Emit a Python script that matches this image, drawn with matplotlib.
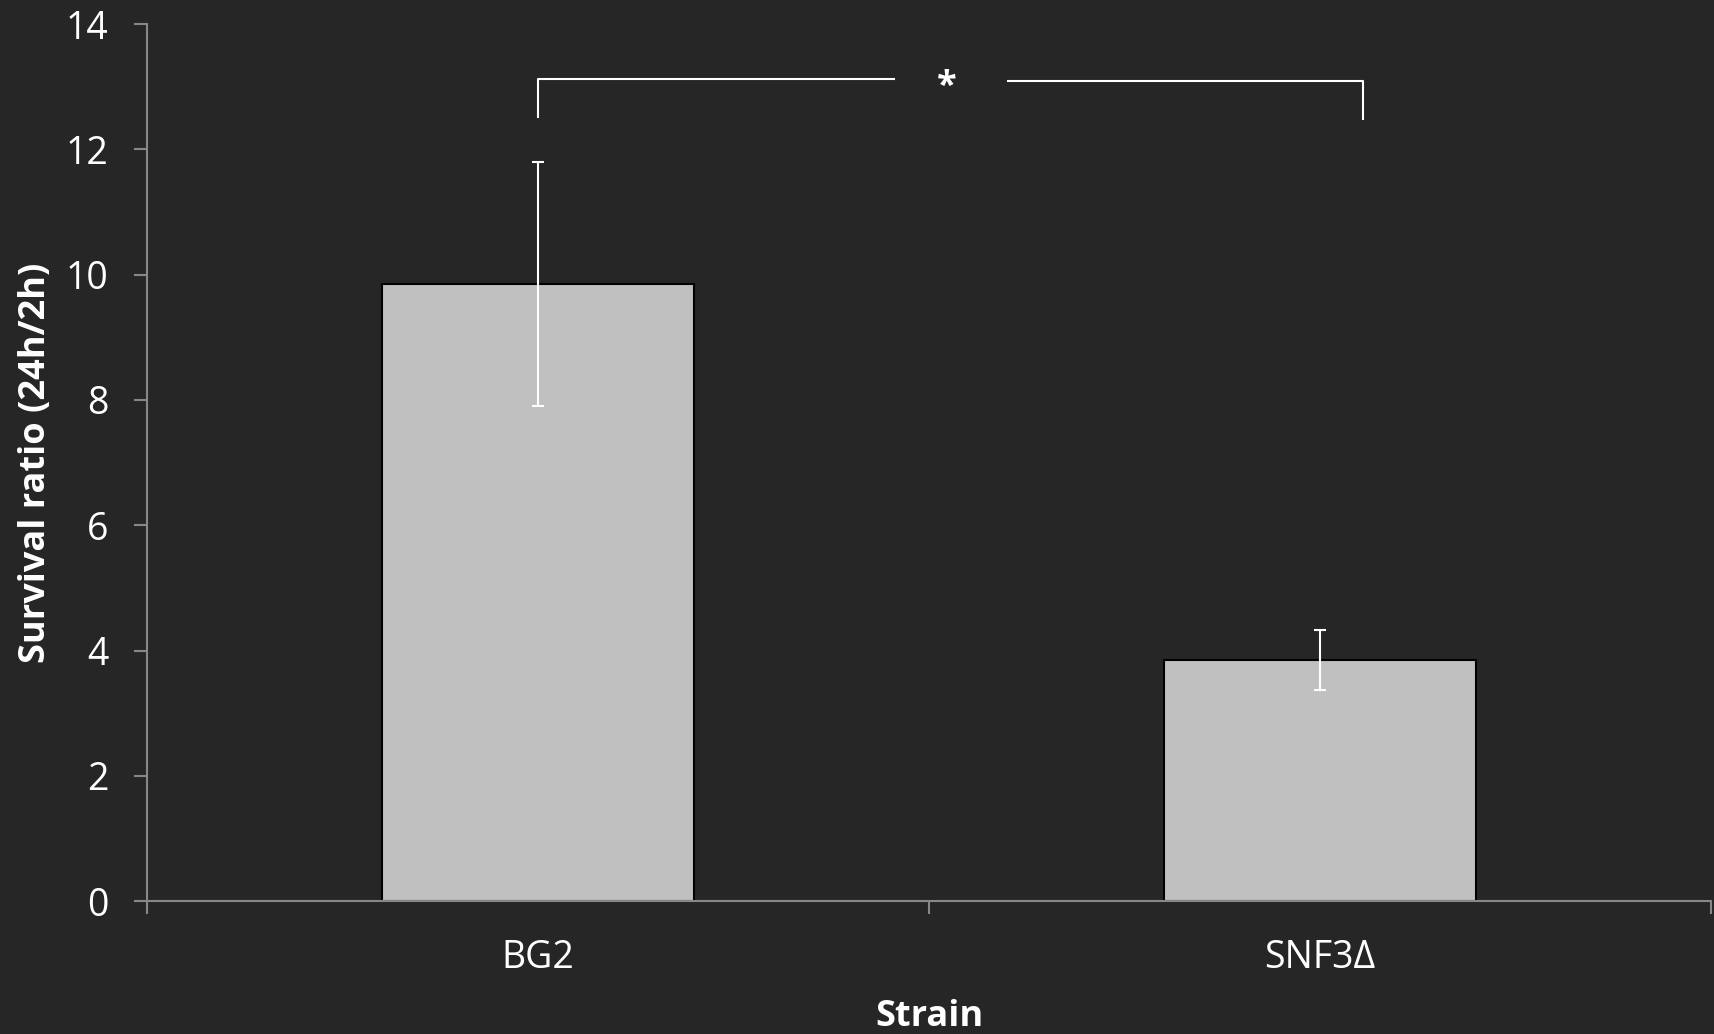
import matplotlib.pyplot as plt

strains = ["BG2", "SNF3Δ"]
survival = [9.85, 3.85]
errors = [1.95, 0.48]

BG = "#262626"
AXIS = "#888888"

plt.rcParams["font.family"] = ["Open Sans", "DejaVu Sans"]

fig = plt.figure(figsize=(17.15, 10.34), dpi=100, facecolor=BG)
ax = fig.add_axes([0.0857, 0.1286, 0.912, 0.848])
ax.set_facecolor(BG)

x = range(len(strains))
ax.bar(x, survival, width=0.4, color="#c0c0c0", edgecolor="black",
       linewidth=1.5, zorder=2)
ax.errorbar(x, survival, yerr=errors, fmt="none", ecolor="white",
            elinewidth=1.5, capsize=4.5, capthick=1.5, zorder=3)

ax.set_xlim(-0.5, 1.5)
ax.set_ylim(0, 14)
ax.set_yticks(range(0, 15, 2))
ax.set_xticks([0, 1], strains)
ax.set_xticks([-0.5, 0.5, 1.5], minor=True)

for side in ("top", "right"):
    ax.spines[side].set_visible(False)
for side in ("left", "bottom"):
    ax.spines[side].set_color(AXIS)
    ax.spines[side].set_linewidth(1.5)

ax.tick_params(axis="y", colors="white", labelsize=27, length=9.5,
               width=1.5, color=AXIS, pad=18)
ax.tick_params(axis="x", which="major", colors="white", labelsize=27,
               length=0, pad=27)
ax.tick_params(axis="x", which="minor", length=9.5, width=1.5, color=AXIS)

ax.set_xlabel("Strain", color="white", fontsize=26, fontweight="bold",
              labelpad=16)
ax.set_ylabel("Survival ratio (24h/2h)", color="white", fontsize=26,
              fontweight="bold", labelpad=9)

# significance bracket between the two strains
lw = 1.5
ax.plot([0, 0, 0.455], [12.52, 13.12, 13.12], color="white", lw=lw,
        clip_on=False)
ax.plot([0.601, 1.055, 1.055], [13.09, 13.09, 12.48], color="white", lw=lw,
        clip_on=False)
ax.text(0.523, 13.0, "*", color="white", fontsize=26, ha="center",
        va="center", fontweight="bold")

fig.savefig("out.png", dpi=100, facecolor=BG)
